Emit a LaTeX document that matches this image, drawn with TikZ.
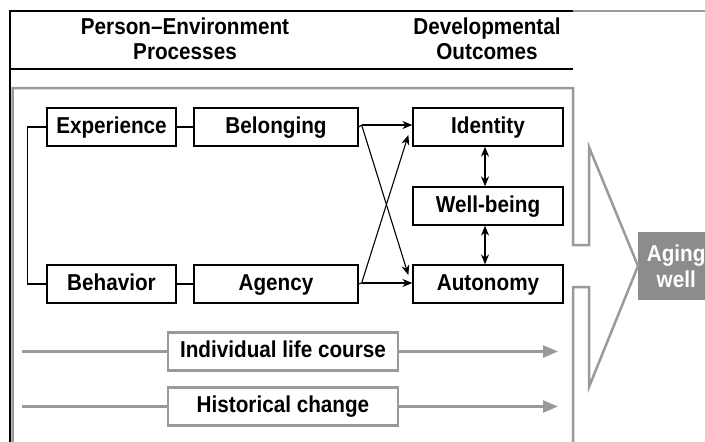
\documentclass[tikz,border=0pt]{standalone}
\usepackage{fontspec}
\setmainfont{Liberation Sans}[FakeStretch=0.9]
\usetikzlibrary{arrows.meta,calc}
\definecolor{lgray}{HTML}{9A9A9A}
\definecolor{boxgray}{HTML}{8C8C8E}
\begin{document}
\begin{tikzpicture}[x=1pt,y=-1pt,
  every node/.style={font=\fontsize{23}{25}\selectfont\bfseries},
  pbox/.style={draw=black, line width=1.3pt, minimum height=38pt, inner sep=0pt, text height=16pt, text depth=4pt},
  gbox/.style={draw=lgray, line width=2.5pt, minimum width=230pt, minimum height=38pt, inner sep=0pt, text height=16pt, text depth=4pt},
  blk/.style={line width=1.1pt, -{Stealth[length=10pt,width=8pt]}},
  dbl/.style={line width=1.1pt, {Stealth[length=10pt,width=8pt]}-{Stealth[length=10pt,width=8pt]}},
  plain/.style={line width=1.1pt},
  glin/.style={draw=lgray, line width=2.5pt},
  garr/.style={glin, -{Triangle[length=15pt,width=12pt]}},
  frame/.style={line width=1.2pt},
  hdr/.style={align=center}
]
\useasboundingbox (0,0) rectangle (705,442);

% header frame
\draw[frame] (10,442) -- (10,11) -- (573,11);
\draw[lgray, line width=1.2pt] (573,11) -- (705,11);
\draw[frame] (10,69) -- (573,69);
\node[hdr] (h1) at (185,39) {Person–Environment\\Processes};
\node[hdr] (h2) at (487,39) {Developmental\\Outcomes};

% aging well box
\node[fill=boxgray, text=white, minimum width=76pt, minimum height=68pt, inner sep=0pt, anchor=west, align=center, font=\fontsize{23}{26}\selectfont\bfseries] (aging) at (638,266) {Aging\\well};

% gray outline with arrow shape
\draw[glin, line join=miter] (12.5,442) -- (12.5,88) -- (573,88) -- (573,245) -- (589,245) -- (589,147) -- (aging.west) -- (589,387) -- (589,287) -- (573,287) -- (573,442);

% process boxes
\node[pbox, minimum width=129pt] (exp) at (111.5,127) {Experience};
\node[pbox, minimum width=164pt] (bel) at (276,127) {Belonging};
\node[pbox, minimum width=129pt] (beh) at (111.5,284) {Behavior};
\node[pbox, minimum width=164pt] (agy) at (276,284) {Agency};
\node[pbox, minimum width=150pt] (id) at (488,127) {Identity};
\node[pbox, minimum width=150pt] (wb) at (488,206) {Well-being};
\node[pbox, minimum width=150pt] (aut) at (488,284) {Autonomy};

% connectors
\draw[plain] (exp.east) -- (bel.west);
\draw[plain] (beh.east) -- (agy.west);
\draw[plain] (exp.west) -- ++(-19,0) |- (beh.west);

\coordinate (bs) at ([xshift=3pt,yshift=2pt]bel.east);
\coordinate (as) at ([xshift=3pt,yshift=1pt]agy.east);
\draw[plain] (bel.east) -- (bs);
\draw[plain] (agy.east) -- (as);
\draw[blk] (bs) -- (bs -| id.west);
\draw[blk] (bs) -- ([xshift=-4pt,yshift=9pt]aut.west);
\draw[blk] (as) -- (as -| aut.west);
\draw[blk] (as) -- ([xshift=-4pt,yshift=-8pt]id.west);

\draw[dbl] ([xshift=-3pt]id.south) -- ([xshift=-3pt]wb.north);
\draw[dbl] ([xshift=-3pt]wb.south) -- ([xshift=-3pt]aut.north);

% bottom time lines
\node[gbox] (ilc) at (283,351.5) {Individual life course};
\node[gbox] (hc) at (283,406.5) {Historical change};
\coordinate (ilcL) at (22,351.5);
\coordinate (ilcR) at (558,351.5);
\coordinate (hcL) at (22,406.5);
\coordinate (hcR) at (558,406.5);
\draw[glin] (ilcL) -- (ilc.west);
\draw[garr] (ilc.east) -- (ilcR);
\draw[glin] (hcL) -- (hc.west);
\draw[garr] (hc.east) -- (hcR);
\end{tikzpicture}
\end{document}
